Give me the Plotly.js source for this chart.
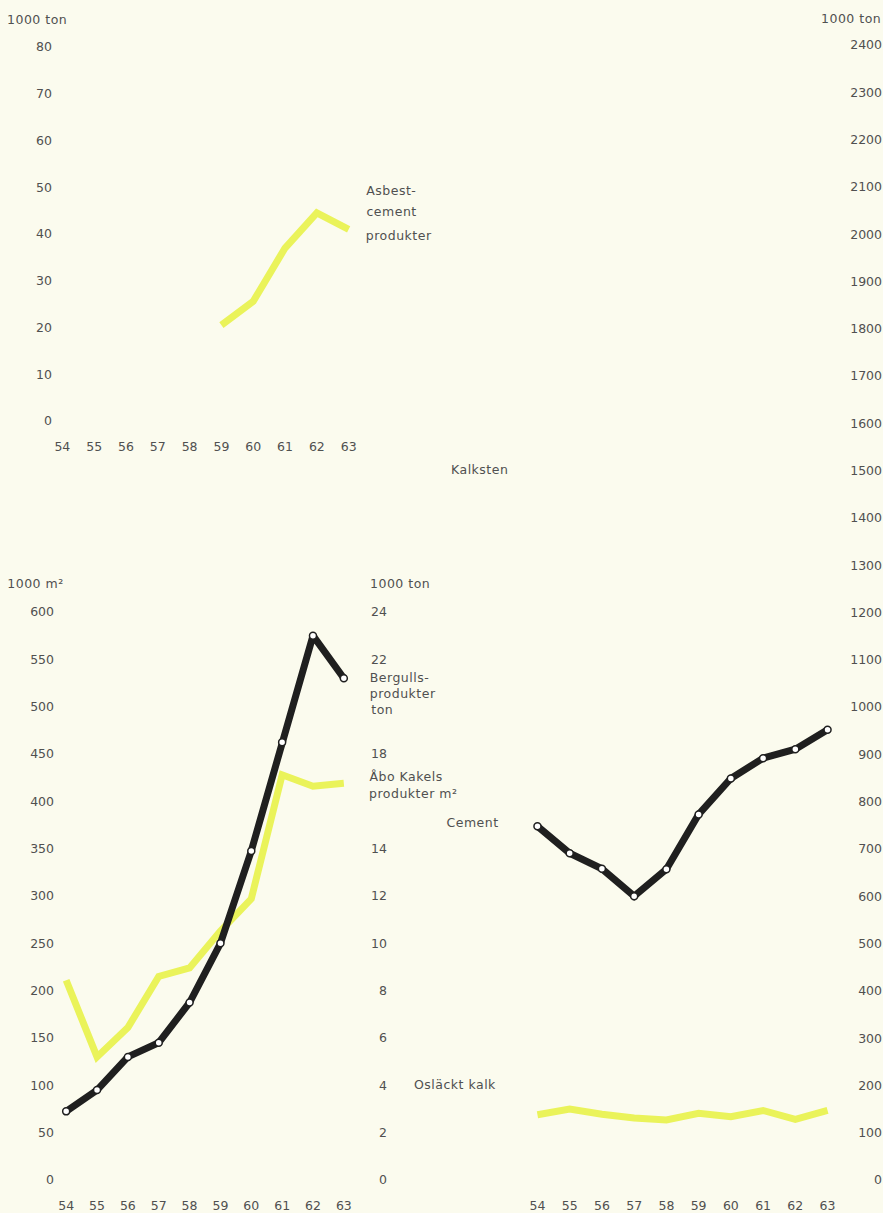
<!DOCTYPE html>
<html><head><meta charset="utf-8">
<script src="https://cdn.plot.ly/plotly-3.0.1.min.js"></script>
<style>
html,body{margin:0;padding:0;background:#fbfbee}
#chart .annotation-text{letter-spacing:0.5px}
</style>
</head><body><div id="chart" style="width:883px;height:1213px"></div>
<script>
// ---- data ----
const years = [54,55,56,57,58,59,60,61,62,63];
const asbestYears = [59,60,61,62,63];
const asbestcementProdukter = [20.5,25.6,37,44.5,41];          // 1000 ton
const bergullsProdukter = [2.9,3.8,5.2,5.8,7.5,10.0,13.9,18.5,23.0,21.2]; // 1000 ton
const aboKakelsProdukter = [211,130,161,215,224,263,297,428,416,419];   // 1000 m2
const cement = [748,691,658,600,657,773,849,892,911,952];      // 1000 ton
const oslacktKalk = [138,150,139,131,127,141,134,147,128,147];  // 1000 ton

const topLeftTicks = [0,10,20,30,40,50,60,70,80];
const m2Ticks = [0,50,100,150,200,250,300,350,400,450,500,550,600];
const tonMidTicks = [0,2,4,6,8,10,12,14,18,22,24];
const rightTicks = [];
for (let v = 0; v <= 2400; v += 100) rightTicks.push(v);

// ---- layout helpers ----
const W = 883, H = 1213;
const px = x => x / W;
const py = y => 1 - y / H;
const YELLOW = '#eaf35a';
const DARK = '#1f1f1f';
const TXT = '#505050';
const FONT = '"DejaVu Sans", Lato, sans-serif';
const tickFont = {family: FONT, size: 12.5, color: TXT};

const baseX = {range: [53.8, 63.2], tickvals: years, showgrid: false, zeroline: false,
  showline: false, ticks: '', tickfont: tickFont, ticklabelstandoff: 16, fixedrange: true};
const baseY = {showgrid: false, zeroline: false, showline: false, ticks: '',
  tickfont: tickFont, anchor: 'free', side: 'left', fixedrange: true};

const markerStyle = {size: 7, color: '#ffffff', line: {color: DARK, width: 1.5}};
const traces = [
  {x: asbestYears, y: asbestcementProdukter, xaxis: 'x', yaxis: 'y', mode: 'lines',
   line: {color: YELLOW, width: 7}, name: 'Asbestcement produkter'},
  {x: years, y: aboKakelsProdukter, xaxis: 'x2', yaxis: 'y2', mode: 'lines',
   line: {color: YELLOW, width: 7}, name: 'Åbo Kakels produkter m²'},
  {x: years, y: bergullsProdukter, xaxis: 'x2', yaxis: 'y3', mode: 'lines+markers',
   line: {color: DARK, width: 7}, marker: markerStyle, name: 'Bergullsprodukter ton'},
  {x: years, y: oslacktKalk, xaxis: 'x3', yaxis: 'y4', mode: 'lines',
   line: {color: YELLOW, width: 7}, name: 'Osläckt kalk'},
  {x: years, y: cement, xaxis: 'x3', yaxis: 'y4', mode: 'lines+markers',
   line: {color: DARK, width: 7}, marker: markerStyle, name: 'Cement'}
];

function ann(text, x, y, xanchor) {
  return {text: text, xref: 'paper', yref: 'paper', x: px(x), y: py(y),
    xanchor: xanchor || 'left', yanchor: 'middle', showarrow: false,
    font: {family: FONT, size: 12.5, color: TXT}};
}

const layout = {
  width: W, height: H, margin: {l: 0, r: 0, t: 0, b: 0},
  paper_bgcolor: '#fbfbee', plot_bgcolor: 'rgba(0,0,0,0)', showlegend: false,
  xaxis: Object.assign({}, baseX, {domain: [px(56), px(355)], anchor: 'y'}),
  yaxis: Object.assign({}, baseY, {domain: [py(421), py(47)], range: [0, 80],
    tickvals: topLeftTicks, position: px(52)}),
  xaxis2: Object.assign({}, baseX, {domain: [px(60), px(350)], anchor: 'y2'}),
  yaxis2: Object.assign({}, baseY, {domain: [py(1180), py(612)], range: [0, 600],
    tickvals: m2Ticks, position: px(54)}),
  yaxis3: Object.assign({}, baseY, {overlaying: 'y2', range: [0, 24],
    tickvals: tonMidTicks, position: px(387)}),
  xaxis3: Object.assign({}, baseX, {domain: [px(531), px(834)], anchor: 'y4'}),
  yaxis4: Object.assign({}, baseY, {domain: [py(1180), py(45)], range: [0, 2400],
    tickvals: rightTicks, position: px(882)}),
  annotations: [
    ann('1000 ton', 7, 20),
    ann('1000 ton', 881, 18, 'right'),
    ann('Asbest-', 366, 190),
    ann('cement', 366, 212),
    ann('produkter', 366, 236),
    ann('Kalksten', 479, 469, 'center'),
    ann('1000 m²', 7, 583),
    ann('1000 ton', 370, 583),
    ann('Bergulls-', 370, 677),
    ann('produkter', 370, 694),
    ann('ton', 370, 710),
    ann('Åbo Kakels', 370, 776),
    ann('produkter m²', 370, 793),
    ann('Cement', 446, 822),
    ann('Osläckt kalk', 415, 1084)
  ]
};

Plotly.newPlot('chart', traces, layout, {displayModeBar: false, staticPlot: true});
</script>
</body></html>
